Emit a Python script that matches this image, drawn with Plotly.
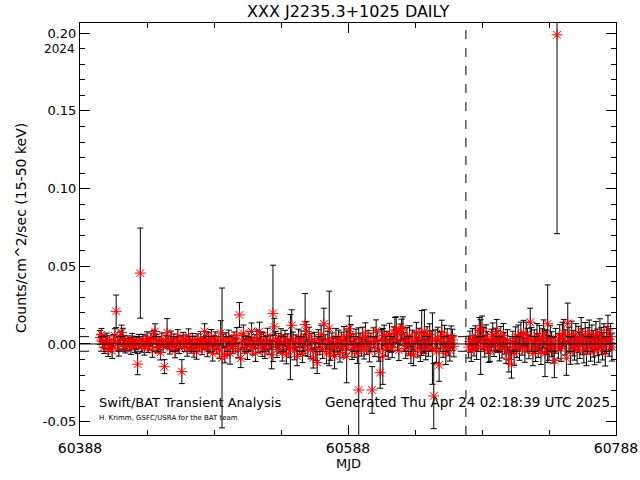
import plotly.graph_objects as go

# ---- data ----
seg_a_start = 60403
seg_a_rate = [
    0.0042, 0.0060, 0.0015, -0.0020, 0.0008, 0.0030, -0.0035, 0.0012, -0.0010, -0.0045,
    0.0020, 0.0052, 0.0210, 0.0005, -0.0028, 0.0040, 0.0073, 0.0031, 0.0009, -0.0016,
    -0.0006, 0.0014, 0.0000, -0.0022, 0.0025, 0.0010, -0.0012, 0.0004, -0.0130, 0.0018,
    0.0456, -0.0008, 0.0022, -0.0030, 0.0011, 0.0034, -0.0015, 0.0000, 0.0028, -0.0040,
    0.0045, 0.0080, 0.0020, -0.0018, 0.0006, -0.0055, 0.0030, -0.0012, -0.0146, 0.0015,
    0.0073, 0.0010, -0.0025, 0.0038, -0.0008, 0.0021, -0.0042, 0.0005, 0.0048, -0.0020,
    0.0012, -0.0178, 0.0030, -0.0006, 0.0018, -0.0033, 0.0050, 0.0008, -0.0015, 0.0026,
    -0.0040, 0.0010, -0.0050, 0.0022, -0.0010, 0.0035, -0.0025, 0.0004, 0.0080, 0.0015,
    -0.0035, 0.0028, -0.0012, 0.0045, -0.0060, 0.0010, 0.0032, -0.0020, 0.0006, -0.0045,
    0.0070, -0.0090, 0.0018, -0.0070, 0.0025, -0.0030, 0.0040, -0.0060, 0.0012, -0.0018,
    0.0030, -0.0008, 0.0055, -0.0040, 0.0187, -0.0092, 0.0020, 0.0070, -0.0015, 0.0010,
    -0.0050, 0.0035, 0.0000, 0.0080, -0.0025, 0.0015, -0.0060, 0.0042, -0.0010, 0.0080,
    0.0018, -0.0030, 0.0025, -0.0045, 0.0008, 0.0050, -0.0020, 0.0012, -0.0070, 0.0197,
    0.0110, 0.0030, -0.0035, 0.0020, -0.0012, 0.0045, -0.0055, 0.0010, 0.0036, -0.0070,
    0.0015, -0.0030, -0.0020, 0.0120, 0.0025, -0.0045, 0.0008, -0.0080, 0.0040, -0.0015,
    0.0030, -0.0060, 0.0010, 0.0125, 0.0080, -0.0025, 0.0050, -0.0040, 0.0015, -0.0090,
    0.0020, -0.0050, -0.0120, 0.0035, -0.0015, 0.0060, -0.0035, 0.0130, 0.0005, -0.0065,
    0.0025, 0.0100, -0.0045, 0.0015, -0.0020, -0.0080, 0.0040, -0.0010, 0.0030, -0.0055,
    0.0018, -0.0030, 0.0050, -0.0012, -0.0080, 0.0020, 0.0100, 0.0060, -0.0040, 0.0008,
    -0.0025, 0.0035, -0.0060, -0.0296, 0.0012, -0.0018, 0.0045, -0.0035, 0.0070, -0.0008,
    0.0025, -0.0050, 0.0010, -0.0296, 0.0040, -0.0020, 0.0085, 0.0015, -0.0045, -0.0185,
    0.0030, -0.0080, 0.0055, -0.0015, 0.0020, -0.0035, 0.0065, 0.0005, -0.0025, 0.0045,
    0.0090, 0.0090, 0.0020, -0.0040, 0.0060, 0.0090, 0.0100, 0.0012, -0.0030, 0.0040,
    -0.0010, 0.0050, -0.0060, 0.0025, -0.0070, 0.0015, 0.0070, -0.0020, 0.0035, -0.0045,
    0.0070, 0.0010, 0.0080, -0.0035, 0.0045, -0.0015, 0.0060, 0.0020, -0.0030, -0.0335,
    0.0025, -0.0050, 0.0040, -0.0135, 0.0015, 0.0073, -0.0020, 0.0050, -0.0060, 0.0030,
    -0.0010, -0.0040, 0.0045, 0.0026, -0.0015,
]
seg_a_err = [
    0.0045, 0.0040, 0.0040, 0.0042, 0.0038, 0.0040, 0.0045, 0.0041, 0.0039, 0.0048,
    0.0040, 0.0046, 0.0105, 0.0044, 0.0050, 0.0043, 0.0048, 0.0070, 0.0044, 0.0042,
    0.0040, 0.0038, 0.0041, 0.0045, 0.0043, 0.0040, 0.0042, 0.0039, 0.0068, 0.0044,
    0.0290, 0.0045, 0.0040, 0.0042, 0.0041, 0.0044, 0.0040, 0.0039, 0.0042, 0.0046,
    0.0043, 0.0050, 0.0041, 0.0040, 0.0042, 0.0048, 0.0040, 0.0043, 0.0045, 0.0041,
    0.0090, 0.0042, 0.0040, 0.0045, 0.0041, 0.0043, 0.0047, 0.0040, 0.0044, 0.0042,
    0.0041, 0.0077, 0.0045, 0.0043, 0.0040, 0.0046, 0.0047, 0.0041, 0.0044, 0.0042,
    0.0045, 0.0041, 0.0048, 0.0043, 0.0040, 0.0046, 0.0044, 0.0042, 0.0050, 0.0043,
    0.0047, 0.0044, 0.0042, 0.0048, 0.0050, 0.0043, 0.0046, 0.0044, 0.0041, 0.0049,
    0.0080, 0.0450, 0.0045, 0.0052, 0.0047, 0.0046, 0.0049, 0.0070, 0.0044, 0.0045,
    0.0047, 0.0043, 0.0050, 0.0048, 0.0080, 0.0060, 0.0045, 0.0052, 0.0044, 0.0046,
    0.0050, 0.0047, 0.0044, 0.0055, 0.0046, 0.0045, 0.0052, 0.0048, 0.0044, 0.0060,
    0.0046, 0.0050, 0.0047, 0.0049, 0.0045, 0.0051, 0.0047, 0.0046, 0.0090, 0.0310,
    0.0055, 0.0050, 0.0052, 0.0048, 0.0047, 0.0053, 0.0055, 0.0049, 0.0052, 0.0058,
    0.0050, 0.0056, 0.0210, 0.0100, 0.0052, 0.0057, 0.0050, 0.0060, 0.0055, 0.0052,
    0.0054, 0.0060, 0.0053, 0.0200, 0.0065, 0.0055, 0.0058, 0.0056, 0.0052, 0.0065,
    0.0055, 0.0058, 0.0070, 0.0057, 0.0054, 0.0060, 0.0058, 0.0100, 0.0055, 0.0062,
    0.0057, 0.0240, 0.0060, 0.0056, 0.0058, 0.0080, 0.0060, 0.0057, 0.0059, 0.0062,
    0.0058, 0.0060, 0.0062, 0.0059, 0.0170, 0.0058, 0.0080, 0.0065, 0.0060, 0.0057,
    0.0061, 0.0060, 0.0066, 0.0400, 0.0058, 0.0060, 0.0063, 0.0062, 0.0066, 0.0059,
    0.0061, 0.0065, 0.0060, 0.0150, 0.0064, 0.0061, 0.0070, 0.0062, 0.0066, 0.0100,
    0.0063, 0.0180, 0.0066, 0.0062, 0.0061, 0.0064, 0.0068, 0.0060, 0.0063, 0.0065,
    0.0080, 0.0085, 0.0062, 0.0066, 0.0068, 0.0070, 0.0075, 0.0061, 0.0064, 0.0066,
    0.0062, 0.0067, 0.0065, 0.0063, 0.0070, 0.0062, 0.0069, 0.0064, 0.0066, 0.0068,
    0.0145, 0.0063, 0.0140, 0.0067, 0.0066, 0.0064, 0.0070, 0.0065, 0.0230, 0.0210,
    0.0066, 0.0069, 0.0068, 0.0105, 0.0065, 0.0080, 0.0066, 0.0070, 0.0072, 0.0068,
    0.0066, 0.0070, 0.0071, 0.0069, 0.0068,
]

seg_b_start = 60678
seg_b_rate = [
    -0.0020, 0.0015, -0.0040, 0.0030, -0.0010, 0.0045, -0.0030, 0.0020, 0.0090, -0.0020,
    0.0100, 0.0035, -0.0015, 0.0050, 0.0010, -0.0045, -0.0040, 0.0025, 0.0060, -0.0010,
    0.0030, 0.0080, 0.0015, -0.0035, 0.0040, -0.0020, 0.0055, 0.0005, -0.0050, 0.0020,
    -0.0100, -0.0025, -0.0130, 0.0010, -0.0060, 0.0035, -0.0015, 0.0045, -0.0030, 0.0060,
    0.0000, 0.0070, -0.0040, 0.0060, 0.0025, -0.0020, 0.0140, 0.0030, -0.0060, 0.0015,
    -0.0035, 0.0050, -0.0010, 0.0040, -0.0050, 0.0020, 0.0065, -0.0060, 0.0010, 0.0130,
    -0.0025, 0.0035, 0.0000, -0.0040, -0.0107, 0.0020, 0.1990, -0.0015, 0.0040, -0.0030,
    0.0055, 0.0070, 0.0010, -0.0092, 0.0133, 0.0025, -0.0045, 0.0060, 0.0005, -0.0020,
    0.0045, -0.0040, 0.0030, -0.0010, 0.0080, 0.0015, -0.0035, 0.0050, -0.0050, 0.0020,
    0.0065, -0.0025, 0.0035, 0.0000, -0.0045, 0.0055, 0.0010, -0.0030, 0.0070, 0.0020,
    -0.0015, 0.0040, -0.0050, 0.0025, 0.0090, 0.0010, 0.0047, -0.0020,
]
seg_b_err = [
    0.0070, 0.0068, 0.0072, 0.0069, 0.0067, 0.0072, 0.0070, 0.0068, 0.0080, 0.0176,
    0.0080, 0.0071, 0.0069, 0.0073, 0.0070, 0.0074, 0.0072, 0.0070, 0.0075, 0.0071,
    0.0072, 0.0078, 0.0070, 0.0074, 0.0073, 0.0071, 0.0076, 0.0070, 0.0076, 0.0072,
    0.0080, 0.0074, 0.0090, 0.0072, 0.0078, 0.0075, 0.0073, 0.0077, 0.0075, 0.0080,
    0.0072, 0.0082, 0.0078, 0.0080, 0.0076, 0.0075, 0.0090, 0.0077, 0.0080, 0.0076,
    0.0078, 0.0081, 0.0077, 0.0080, 0.0082, 0.0078, 0.0090, 0.0150, 0.0079, 0.0250,
    0.0080, 0.0082, 0.0079, 0.0083, 0.0110, 0.0080, 0.1280, 0.0081, 0.0084, 0.0082,
    0.0085, 0.0088, 0.0081, 0.0110, 0.0130, 0.0083, 0.0086, 0.0087, 0.0082, 0.0084,
    0.0086, 0.0088, 0.0084, 0.0083, 0.0090, 0.0084, 0.0087, 0.0088, 0.0090, 0.0085,
    0.0089, 0.0086, 0.0087, 0.0085, 0.0089, 0.0090, 0.0086, 0.0088, 0.0092, 0.0087,
    0.0088, 0.0090, 0.0092, 0.0088, 0.0095, 0.0089, 0.0085, 0.0090,
]

x_range = [60388, 60788]
x_ticks = [60388, 60588, 60788]
y_range = [-0.0586, 0.2066]
y_ticks = [-0.05, 0.00, 0.05, 0.10, 0.15, 0.20]
year_boundary = 60676
mean_level = 0.0
sigma_level = 0.0047

title_text = "XXX J2235.3+1025 DAILY"
y_title = "Counts/cm^2/sec (15-50 keV)"
x_title = "MJD"
year_label = "2024"
footer_left = "Swift/BAT Transient Analysis"
footer_right = "Generated Thu Apr 24 02:18:39 UTC 2025"
footer_small = "H. Krimm, GSFC/USRA for the BAT team"

mjd = [seg_a_start + i for i in range(len(seg_a_rate))] + \
      [seg_b_start + i for i in range(len(seg_b_rate))]
rate = seg_a_rate + seg_b_rate
err = seg_a_err + seg_b_err

FONT = "DejaVu Sans"
PLOT_TOP, PLOT_BOTTOM, PLOT_LEFT, PLOT_RIGHT = 23, 435, 80, 616
PH = PLOT_BOTTOM - PLOT_TOP
PW = PLOT_RIGHT - PLOT_LEFT


def py(pix):
    return (PLOT_BOTTOM - pix) / PH


def px(pix):
    return (pix - PLOT_LEFT) / PW


fig = go.Figure()
fig.add_trace(go.Scatter(
    x=mjd, y=rate, mode="markers",
    marker=dict(symbol="asterisk-open", size=9, color="red",
                line=dict(color="red", width=1)),
    error_y=dict(type="data", array=err, visible=True, color="black",
                 thickness=1, width=3),
    showlegend=False, cliponaxis=True,
))

# reference lines
fig.add_shape(type="line", xref="paper", x0=0, x1=1, yref="y",
              y0=mean_level, y1=mean_level, line=dict(color="black", width=1))
for lv in (mean_level + sigma_level, mean_level - sigma_level):
    fig.add_shape(type="line", xref="paper", x0=0, x1=1, yref="y",
                  y0=lv, y1=lv, line=dict(color="black", width=1, dash="dash"))
fig.add_shape(type="line", xref="x", x0=year_boundary, x1=year_boundary,
              yref="paper", y0=0, y1=1,
              line=dict(color="black", width=1, dash="dash"))

axis_common = dict(
    showline=True, linecolor="black", linewidth=1, mirror="ticks",
    ticks="inside", ticklen=10, tickwidth=1, tickcolor="black",
    showgrid=False, zeroline=False, automargin=False,
)

fig.update_xaxes(range=x_range, tickvals=x_ticks,
                 ticktext=[str(v) for v in x_ticks],
                 tickfont=dict(family=FONT, size=14, color="black"),
                 minor=dict(dtick=50, tick0=x_range[0], ticks="inside",
                            ticklen=5, tickcolor="black", tickwidth=1,
                            showgrid=False),
                 **axis_common)
fig.update_yaxes(range=y_range, tickvals=y_ticks,
                 ticktext=[f"{v:.2f}" for v in y_ticks],
                 tickfont=dict(family=FONT, size=13, color="black"),
                 minor=dict(dtick=0.01, tick0=0, ticks="inside",
                            ticklen=5, tickcolor="black", tickwidth=1,
                            showgrid=False),
                 **axis_common)

ann = [
    dict(text=title_text, xref="paper", x=0.5, yref="paper", y=py(12),
         xanchor="center", yanchor="middle", showarrow=False,
         font=dict(family=FONT, size=16, color="black")),
    dict(text=x_title, xref="paper", x=0.5, yref="paper", y=py(463),
         xanchor="center", yanchor="middle", showarrow=False,
         font=dict(family=FONT, size=13, color="black")),
    dict(text=y_title, xref="paper", x=px(21), yref="paper",
         y=py(228), xanchor="center", yanchor="middle",
         textangle=-90, showarrow=False,
         font=dict(family=FONT, size=14, color="black")),
    dict(text=year_label, xref="paper", x=px(77), yref="paper",
         y=py(49), xanchor="right", yanchor="middle", showarrow=False,
         font=dict(family=FONT, size=12, color="black")),
    dict(text=footer_left, xref="paper", x=px(97), yref="paper",
         y=py(402), xanchor="left", yanchor="middle", showarrow=False,
         font=dict(family=FONT, size=13, color="black")),
    dict(text=footer_right, xref="paper", x=px(612), yref="paper",
         y=py(402), xanchor="right", yanchor="middle", showarrow=False,
         font=dict(family=FONT, size=13.5, color="black")),
    dict(text=footer_small, xref="paper", x=px(97), yref="paper",
         y=py(418), xanchor="left", yanchor="middle", showarrow=False,
         font=dict(family=FONT, size=7, color="black")),
]

fig.update_layout(
    width=640, height=480,
    margin=dict(l=PLOT_LEFT, r=640 - PLOT_RIGHT, t=PLOT_TOP, b=480 - PLOT_BOTTOM,
                pad=0),
    paper_bgcolor="white", plot_bgcolor="white",
    font=dict(family=FONT, color="black"),
    annotations=ann,
    showlegend=False,
)

fig.write_html("out.html")
